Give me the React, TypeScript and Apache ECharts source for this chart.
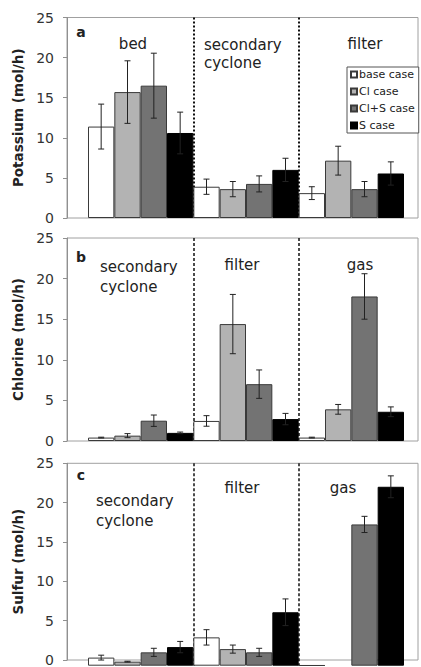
import React, { useEffect, useRef } from 'react';
import * as echarts from 'echarts';

// ---------- data ----------
const caseNames = ['base case', 'Cl case', 'Cl+S case', 'S case'];
const caseColors = ['#ffffff', '#b3b3b3', '#737373', '#000000'];

const catsPotassium = ['bed', 'secondary cyclone', 'filter'];
const catsChlorine = ['secondary cyclone', 'filter', 'gas'];
const catsSulfur = ['secondary cyclone', 'filter', 'gas'];

const yTicks = [0, 5, 10, 15, 20, 25];

// Potassium (mol/h)
const kBase = [11.4, 3.9, 3.1];
const kCl = [15.7, 3.6, 7.15];
const kClS = [16.5, 4.25, 3.6];
const kS = [10.6, 6.0, 5.55];
const kBaseErr = [2.8, 0.95, 0.8];
const kClErr = [3.9, 0.95, 1.8];
const kClSErr = [4.05, 1.0, 0.95];
const kSErr = [2.6, 1.45, 1.45];

// Chlorine (mol/h)
const clBase = [0.42, 2.47, 0.42];
const clCl = [0.66, 14.4, 3.9];
const clClS = [2.5, 7.0, 17.8];
const clS = [1.0, 2.7, 3.6];
const clBaseErr = [0.05, 0.65, 0.05];
const clClErr = [0.25, 3.65, 0.6];
const clClSErr = [0.7, 1.75, 2.8];
const clSErr = [0.1, 0.7, 0.6];

// Sulfur (mol/h)
const sBase = [1.0, 3.5, 0.05];
const sCl = [0.5, 2.05, null];
const sClS = [1.65, 1.65, 17.45];
const sS = [2.3, 6.6, 22.1];
const sBaseErr = [0.3, 0.95, 0];
const sClErr = [0.05, 0.5, 0];
const sClSErr = [0.5, 0.5, 1.0];
const sSErr = [0.7, 1.65, 1.35];

// ---------- layout ----------
const FONT = 'DejaVu Sans';
const panels = [
  {
    letter: 'a', name: 'Potassium (mol/h)', cats: catsPotassium,
    values: [kBase, kCl, kClS, kS], errs: [kBaseErr, kClErr, kClSErr, kSErr],
    top: 17.5, height: 200.5, dividerWidth: 2, dash: [2, 2],
  },
  {
    letter: 'b', name: 'Chlorine (mol/h)', cats: catsChlorine,
    values: [clBase, clCl, clClS, clS], errs: [clBaseErr, clClErr, clClSErr, clSErr],
    top: 238, height: 203, dividerWidth: 1.5, dash: [3, 2],
  },
  {
    letter: 'c', name: 'Sulfur (mol/h)', cats: catsSulfur,
    values: [sBase, sCl, sClS, sS], errs: [sBaseErr, sClErr, sClSErr, sSErr],
    top: 463.3, height: 202.4, dividerWidth: 1.5, dash: [3, 2],
  },
];

const FRAME_LEFT = 67;
const FRAME_WIDTH = 351;
const BARS_LEFT = 88;
const BARS_WIDTH = 316;

function makeErrRenderer(j: number) {
  return (params: any, api: any) => {
    const x = api.value(0);
    const v = api.value(1);
    const e = api.value(2);
    if (v == null || isNaN(v) || !e) return null;
    const band = api.size([1, 0])[0];
    const c = api.coord([x, v]);
    const cx = c[0] + ((j - 1.5) * band) / 4;
    const top = api.coord([x, v + e])[1];
    const bot = api.coord([x, Math.max(0, v - e)])[1];
    const cap = 3;
    const style = { stroke: '#222', lineWidth: 1 };
    return {
      type: 'group',
      children: [
        { type: 'line', shape: { x1: cx, y1: top, x2: cx, y2: bot }, style },
        { type: 'line', shape: { x1: cx - cap, y1: top, x2: cx + cap, y2: top }, style },
        { type: 'line', shape: { x1: cx - cap, y1: bot, x2: cx + cap, y2: bot }, style },
      ],
    };
  };
}

function buildOption() {
  const grid: any[] = [];
  const xAxis: any[] = [];
  const yAxis: any[] = [];
  const series: any[] = [];

  panels.forEach((p, pi) => {
    const gFrame = grid.length;
    grid.push({
      left: FRAME_LEFT, width: FRAME_WIDTH, top: p.top, height: p.height,
      show: true, borderColor: '#a0a0a0', borderWidth: 1, backgroundColor: 'transparent',
    });
    xAxis.push({ gridIndex: gFrame, type: 'value', min: 0, max: 1, show: false });
    yAxis.push({
      gridIndex: gFrame, type: 'value', min: yTicks[0], max: yTicks[yTicks.length - 1], interval: 5,
      name: p.name, nameLocation: 'middle', nameGap: 41,
      nameTextStyle: { fontFamily: FONT, fontWeight: 'bold', fontSize: 13.5, color: '#222' },
      axisLine: { show: true, lineStyle: { color: '#909090', width: 1 } },
      axisTick: { show: true, inside: false, length: 4, lineStyle: { color: '#909090' } },
      axisLabel: { fontFamily: FONT, fontSize: 14, color: '#333', margin: 13 },
      splitLine: { show: false },
    });

    const gBars = grid.length;
    grid.push({ left: BARS_LEFT, width: BARS_WIDTH, top: p.top, height: p.height });
    xAxis.push({ gridIndex: gBars, type: 'category', data: p.cats, show: false, boundaryGap: true });
    yAxis.push({ gridIndex: gBars, type: 'value', min: 0, max: 25, show: false });

    const gDiv = grid.length;
    grid.push({ left: BARS_LEFT + BARS_WIDTH / 3, width: BARS_WIDTH / 3, top: p.top, height: p.height });
    xAxis.push({
      gridIndex: gDiv, type: 'value', min: 0, max: 1, interval: 1,
      axisLine: { show: false }, axisTick: { show: false }, axisLabel: { show: false },
      splitLine: { show: true, lineStyle: { color: '#111', width: p.dividerWidth, type: p.dash } },
    });
    yAxis.push({ gridIndex: gDiv, type: 'value', min: 0, max: 25, show: false });

    p.values.forEach((vals, j) => {
      series.push({
        type: 'bar', name: caseNames[j], xAxisIndex: gBars, yAxisIndex: gBars,
        data: vals, barGap: '0%', barCategoryGap: '0%',
        itemStyle: { color: caseColors[j], borderColor: j === 3 ? '#000' : '#3a3a3a', borderWidth: 1 },
        emphasis: { disabled: true }, z: 2,
      });
    });
    p.values.forEach((vals, j) => {
      series.push({
        type: 'custom', name: 'err-' + pi + '-' + j, xAxisIndex: gBars, yAxisIndex: gBars,
        data: vals.map((v, i) => [i, v, p.errs[j][i]]),
        encode: { x: 0, y: 1 },
        renderItem: makeErrRenderer(j), z: 5, silent: true,
      });
    });
  });

  const txt = (text: string, x: number, y: number, opts: any = {}) => ({
    type: 'text', x, y, z: 20,
    style: {
      text, fill: '#222', fontFamily: FONT, fontSize: 15,
      textAlign: 'center', textVerticalAlign: 'middle', ...opts,
    },
  });

  const graphic = [
    txt('a', 81, 32, { fontWeight: 'bold', fontSize: 14 }),
    txt('bed', 133, 44),
    txt('secondary\ncyclone', 204, 54, { textAlign: 'left', lineHeight: 18 }),
    txt('filter', 365, 44),
    txt('b', 81, 257, { fontWeight: 'bold', fontSize: 14 }),
    txt('secondary\ncyclone', 100, 277, { textAlign: 'left', lineHeight: 20 }),
    txt('filter', 242, 265),
    txt('gas', 360, 265),
    txt('c', 81, 475, { fontWeight: 'bold', fontSize: 14 }),
    txt('secondary\ncyclone', 96, 511, { textAlign: 'left', lineHeight: 20 }),
    txt('filter', 242, 488),
    txt('gas', 343, 488),
  ];

  return {
    animation: false,
    backgroundColor: '#ffffff',
    grid, xAxis, yAxis, series, graphic,
    legend: {
      data: caseNames, orient: 'vertical', left: 347, top: 67,
      padding: [2, 4, 2, 3], itemWidth: 6, itemHeight: 6, itemGap: 6,
      icon: 'rect', backgroundColor: '#ffffff', borderColor: '#555', borderWidth: 1, borderRadius: 0,
      textStyle: { fontFamily: FONT, fontSize: 11, color: '#222', padding: [0, 0, 0, -3] },
      selectedMode: false,
    },
  };
}

export default function App() {
  const ref = useRef<HTMLDivElement>(null);
  useEffect(() => {
    if (!ref.current) return;
    const chart = echarts.init(ref.current, undefined, { renderer: 'svg' });
    chart.setOption(buildOption() as any);
    return () => chart.dispose();
  }, []);
  return (
    <div
      ref={ref}
      style={{ position: 'fixed', left: 0, top: 0, width: 421, height: 667, background: '#fff' }}
    />
  );
}
